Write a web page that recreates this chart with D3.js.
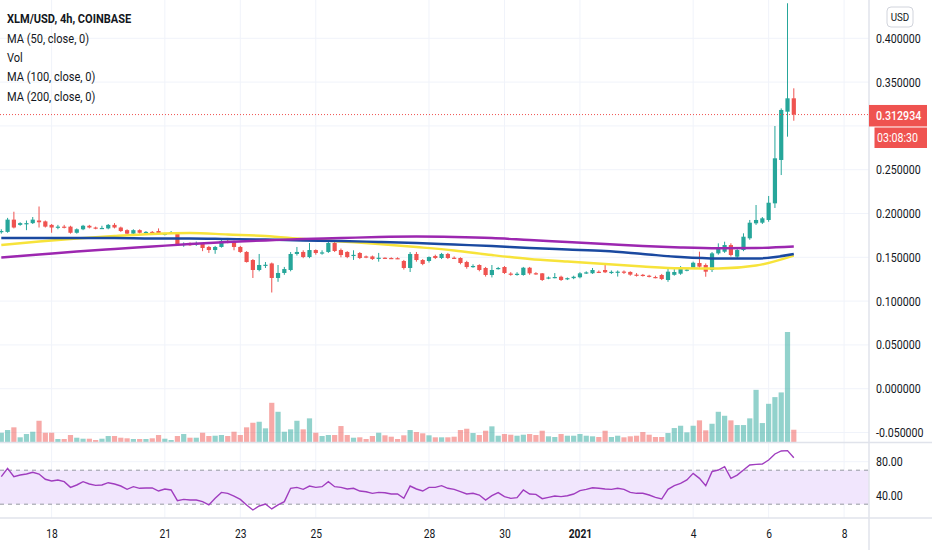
<!DOCTYPE html>
<html>
<head>
<meta charset="utf-8">
<script src="https://cdn.jsdelivr.net/npm/d3@7"></script>
<style>
html, body { margin: 0; padding: 0; background: #fff; }
svg { display: block; font-family: Roboto, "Liberation Sans", sans-serif; }
</style>
</head>
<body>
<div id="content"></div>
<script>
// XLM/USD 4h candles, Dec 16 2020 16:00 UTC .. Jan 6 2021 16:00 UTC
var startTime = Date.UTC(2020, 11, 16, 16);
var barHours = 4;

var open = [.1790,.1790,.1930,.1870,.1880,.1890,.1920,.1910,.1870,.1840,.1850,.1850,.1780,.1820,.1860,.1840,.1830,.1830,.1870,.1840,
  .1810,.1770,.1810,.1780,.1790,.1800,.1760,.1775,.1770,.1645,.1652,.1648,.1652,.1618,.1583,.1618,.1680,.1675,.1618,.1561,
  .1469,.1355,.1405,.1430,.1264,.1321,.1355,.1538,.1561,.1503,.1583,.1549,.1561,.1663,.1583,.1561,.1520,.1549,.1510,.1510,
  .1488,.1495,.1492,.1490,.1458,.1378,.1538,.1469,.1458,.1515,.1492,.1538,.1495,.1492,.1446,.1395,.1412,.1378,.1298,.1372,
  .1389,.1314,.1305,.1298,.1381,.1318,.1317,.1262,.1264,.1278,.1255,.1262,.1272,.1320,.1318,.1335,.1355,.1329,.1330,.1337,
  .1333,.1302,.1300,.1290,.1275,.1298,.1241,.1300,.1313,.1350,.1381,.1435,.1412,.1355,.1545,.1564,.1640,.1507,.1583,.1717,
  .1888,.1895,.1926,.2116,.2611,.3162,.3315];
var high = [.1820,.1950,.2020,.1900,.1920,.1960,.2080,.1920,.1880,.1870,.1870,.1860,.1830,.1870,.1870,.1850,.1860,.1880,.1890,.1850,
  .1820,.1820,.1820,.1800,.1800,.1830,.1780,.1800,.1775,.1670,.1670,.1680,.1660,.1630,.1630,.1710,.1700,.1690,.1630,.1570,
  .1480,.1538,.1446,.1440,.1412,.1390,.1560,.1618,.1580,.1663,.1590,.1580,.1680,.1680,.1600,.1570,.1580,.1560,.1520,.1520,
  .1550,.1500,.1500,.1500,.1470,.1560,.1561,.1480,.1510,.1530,.1550,.1550,.1510,.1500,.1460,.1420,.1420,.1390,.1412,.1390,
  .1400,.1330,.1330,.1390,.1390,.1330,.1320,.1280,.1320,.1290,.1270,.1290,.1330,.1340,.1378,.1350,.1412,.1350,.1350,.1350,
  .1340,.1320,.1310,.1300,.1290,.1310,.1370,.1365,.1400,.1380,.1450,.1564,.1430,.1560,.1659,.1678,.1660,.1600,.1774,.1926,
  .2097,.1960,.2200,.2999,.3200,.4400,.3429];
var low = [.1770,.1780,.1830,.1860,.1810,.1880,.1840,.1840,.1780,.1820,.1830,.1770,.1770,.1810,.1830,.1820,.1830,.1820,.1830,.1790,
  .1760,.1760,.1770,.1770,.1770,.1760,.1750,.1770,.1630,.1620,.1630,.1630,.1570,.1550,.1540,.1610,.1660,.1580,.1550,.1440,
  .1264,.1340,.1378,.1098,.1220,.1300,.1340,.1520,.1490,.1490,.1530,.1530,.1550,.1560,.1500,.1490,.1470,.1480,.1490,.1470,
  .1450,.1480,.1480,.1480,.1360,.1332,.1450,.1410,.1440,.1480,.1480,.1480,.1480,.1420,.1370,.1380,.1340,.1280,.1270,.1360,
  .1310,.1290,.1290,.1290,.1300,.1300,.1230,.1250,.1260,.1230,.1240,.1250,.1260,.1310,.1310,.1320,.1320,.1310,.1280,.1310,
  .1290,.1280,.1280,.1270,.1260,.1240,.1220,.1290,.1300,.1340,.1370,.1380,.1278,.1332,.1530,.1550,.1510,.1490,.1570,.1700,
  .1870,.1880,.1906,.2063,.2439,.2877,.3059];
var close = [.1800,.1930,.1840,.1890,.1890,.1930,.1900,.1850,.1840,.1850,.1840,.1780,.1820,.1860,.1840,.1830,.1835,.1870,.1840,.1800,
  .1770,.1810,.1780,.1790,.1780,.1770,.1770,.1785,.1640,.1652,.1645,.1658,.1606,.1583,.1618,.1686,.1675,.1618,.1561,.1446,
  .1355,.1412,.1415,.1264,.1321,.1366,.1538,.1561,.1503,.1583,.1549,.1556,.1663,.1572,.1526,.1503,.1528,.1492,.1505,.1480,
  .1495,.1490,.1487,.1485,.1378,.1538,.1469,.1424,.1503,.1492,.1538,.1492,.1490,.1435,.1389,.1401,.1355,.1298,.1355,.1378,
  .1321,.1305,.1312,.1381,.1317,.1312,.1241,.1270,.1275,.1241,.1262,.1278,.1317,.1328,.1355,.1328,.1329,.1334,.1336,.1332,
  .1302,.1298,.1296,.1278,.1268,.1252,.1336,.1332,.1389,.1360,.1438,.1393,.1336,.1545,.1602,.1640,.1526,.1583,.1735,.1895,
  .1926,.1945,.2123,.2630,.3182,.3315,.312934];
// volume, millions
var volume = [9.3,12,14.7,4.7,8,10.3,21.3,9.3,9.3,3,3,7,4.3,3.3,3.3,2,3.3,6,6,4.3,
  3.7,3,3,3,3.7,7,3.3,2,6,8,4.3,4.3,9.3,6,6.3,7,6,10.3,7,14.7,
  19.3,20.3,13.7,39.3,30.3,10.3,12.7,21.3,12.7,23.7,9.3,6,7,7,16,7,4.3,4.7,3,6,
  9.3,6.7,5.3,3,6.7,12,10,8.7,6.7,4.7,4.7,4.7,5.3,12,13.3,9,7,11.3,15.7,6.3,
  8,7.3,6.3,7.3,8,7,11.3,5.7,5,8,6.3,6.3,8,6.3,5.7,5,11.3,5,6.3,4.7,
  5.7,6.3,10,7.3,5,5,9,14,16.3,9.7,16.3,21.7,11.7,18.3,30.3,26.3,21.7,17,17,23.7,
  52.3,19,38.3,45,49.7,110.3,12.3];
// RSI (14, close)
var rsi = [62.4,72.2,62.4,64.4,65.5,67.5,65.5,59.3,57.3,58.5,56.5,49.8,52.6,56.5,53.8,52.2,52.6,55.3,53.8,51.4,
  47.5,50.6,48.7,49.1,49.1,45.5,47.9,46.7,34.1,35.7,34.9,34.9,33.0,29.1,36.9,43.9,42.8,39.6,35.7,29.1,
  23.2,27.9,30.2,24.4,29.1,33.0,48.7,49.8,47.5,51.4,49.8,50.6,56.5,50.6,49.8,47.9,48.7,45.5,44.7,42.8,
  43.9,43.5,42.0,42.0,37.0,51.4,47.9,45.5,49.8,49.8,51.8,48.7,47.5,44.7,42.0,42.8,40.8,34.9,40.0,43.6,
  38.9,36.9,37.7,46.7,42.0,41.6,36.5,38.1,39.6,38.9,40.0,42.0,45.9,47.5,49.4,48.7,47.9,47.5,48.7,47.5,
  43.9,42.8,42.8,40.8,38.1,36.1,47.5,51.8,54.5,58.5,66.3,60.4,51.8,68.3,70.2,74.1,60.4,64.3,70.2,76.1,
  76.9,77.3,82.0,89.1,92.6,93.0,84.7];

// moving averages, read once a day (every 6th bar)
var maStep = 6;
var ma50 = [.1640,.1680,.1715,.1743,.1766,.1777,.1760,.1743,.1709,.1680,.1652,.1617,.1578,.1526,.1481,.1452,.1423,.1395,.1375,.1372,.1406,.1520];
var ma100 = [.1720,.1720,.1720,.1720,.1715,.1715,.1709,.1703,.1692,.1686,.1675,.1663,.1646,.1629,.1606,.1589,.1572,.1538,.1503,.1486,.1486,.1538];
var ma200 = [.1498,.1532,.1566,.1595,.1623,.1652,.1675,.1692,.1709,.1720,.1732,.1737,.1732,.1720,.1697,.1675,.1652,.1629,.1612,.1603,.1606,.1623];

var priceTicks = [-0.05, 0, 0.05, 0.1, 0.15, 0.2, 0.25, 0.3, 0.35, 0.4];
var rsiTicks = [40, 80];
var rsiBand = [30, 70];
var timeTicks = ["2020-12-18","2020-12-21","2020-12-23","2020-12-25","2020-12-28","2020-12-30","2021-01-01","2021-01-04","2021-01-06","2021-01-08"];
var legend = ["XLM/USD, 4h, COINBASE", "MA (50, close, 0)", "Vol", "MA (100, close, 0)", "MA (200, close, 0)"];
var countdown = "03:08:30";

// Set up canvas
var width = 932, height = 550;
var plotRight = 869, mainBottom = 442, rsiBottom = 518;
var up = "#26a69a", down = "#ef5350";
var gridColor = "#f0f3fa", sepColor = "#e0e3eb", textColor = "#131722";

var bars = open.map(function(o, i) {
  return { t: new Date(startTime + i * barHours * 3600e3), o: o, h: high[i], l: low[i], c: close[i], v: volume[i], r: rsi[i] };
});

var svg = d3.select("#content")
  .append("svg")
  .attr("width", width)
  .attr("height", height);

var x = d3.scaleUtc()
  .domain([bars[0].t, bars[bars.length - 1].t])
  .range([1.3, 793.8]);

var y = d3.scaleLinear()
  .domain([-0.05, 0.4])
  .range([432.5, 38.3]);

var yVol = d3.scaleLinear()
  .domain([0, d3.max(volume)])
  .range([mainBottom, mainBottom - 110]);

var yRsi = d3.scaleLinear()
  .domain([0, 100])
  .range([529.7, 444.7]);

var defs = svg.append("defs");
defs.append("clipPath").attr("id", "clipMain")
  .append("rect").attr("x", 0).attr("y", 0).attr("width", plotRight).attr("height", mainBottom);
defs.append("clipPath").attr("id", "clipRsi")
  .append("rect").attr("x", 0).attr("y", mainBottom).attr("width", plotRight).attr("height", rsiBottom - mainBottom);

// squeeze text a bit so it matches the narrow look of the screenshot
function squeeze(sel, k) {
  sel.each(function() {
    var len = this.getComputedTextLength();
    d3.select(this).attr("textLength", len * k).attr("lengthAdjust", "spacingAndGlyphs");
  });
}

// grid
var tickDates = timeTicks.map(function(s) { return new Date(s + "T00:00:00Z"); });
svg.append("g").selectAll("line")
  .data(tickDates).enter().append("line")
  .attr("x1", function(d) { return x(d); }).attr("x2", function(d) { return x(d); })
  .attr("y1", 0).attr("y2", rsiBottom)
  .attr("stroke", gridColor);

svg.append("g").selectAll("line")
  .data(priceTicks).enter().append("line")
  .attr("x1", 0).attr("x2", plotRight)
  .attr("y1", function(d) { return y(d); }).attr("y2", function(d) { return y(d); })
  .attr("stroke", gridColor);

svg.append("g").selectAll("line")
  .data(rsiTicks).enter().append("line")
  .attr("x1", 0).attr("x2", plotRight)
  .attr("y1", function(d) { return yRsi(d); }).attr("y2", function(d) { return yRsi(d); })
  .attr("stroke", gridColor);

// volume
var main = svg.append("g").attr("clip-path", "url(#clipMain)");
main.append("g").selectAll("rect")
  .data(bars).enter().append("rect")
  .attr("x", function(d) { return x(d.t) - 2.6; })
  .attr("width", 5.2)
  .attr("y", function(d) { return yVol(d.v); })
  .attr("height", function(d) { return mainBottom - yVol(d.v); })
  .attr("fill", function(d) { return d.c >= d.o ? up : down; })
  .attr("fill-opacity", 0.5);

// candles
var candle = main.append("g").selectAll("g")
  .data(bars).enter().append("g")
  .attr("fill", function(d) { return d.c >= d.o ? up : down; })
  .attr("stroke", function(d) { return d.c >= d.o ? up : down; });

candle.append("line")
  .attr("x1", function(d) { return x(d.t); }).attr("x2", function(d) { return x(d.t); })
  .attr("y1", function(d) { return y(d.h); }).attr("y2", function(d) { return y(d.l); })
  .attr("stroke-width", 1);

candle.append("rect")
  .attr("stroke", "none")
  .attr("x", function(d) { return x(d.t) - 2.1; })
  .attr("width", 4.2)
  .attr("y", function(d) { return y(Math.max(d.o, d.c)); })
  .attr("height", function(d) { return Math.max(1.2, Math.abs(y(d.o) - y(d.c))); });

// moving averages
var maLine = d3.line()
  .x(function(d, i) { return x(bars[i * maStep].t); })
  .y(function(d) { return y(d); })
  .curve(d3.curveMonotoneX);

[[ma50, "#f7e33a"], [ma100, "#1a49a0"], [ma200, "#9c27b0"]].forEach(function(m) {
  main.append("path")
    .attr("d", maLine(m[0]))
    .attr("fill", "none")
    .attr("stroke", m[1])
    .attr("stroke-width", 2.4);
});

// last price line
var lastClose = close[close.length - 1];
var py = y(lastClose);
svg.append("line")
  .attr("x1", 0).attr("x2", plotRight)
  .attr("y1", py).attr("y2", py)
  .attr("stroke", down)
  .attr("stroke-dasharray", "1,2");

// RSI pane
svg.append("rect")
  .attr("x", 0).attr("width", plotRight)
  .attr("y", yRsi(rsiBand[1]))
  .attr("height", yRsi(rsiBand[0]) - yRsi(rsiBand[1]))
  .attr("fill", "#f1e6fd");

svg.append("g").selectAll("line")
  .data(rsiBand).enter().append("line")
  .attr("x1", 0).attr("x2", plotRight)
  .attr("y1", function(d) { return yRsi(d); }).attr("y2", function(d) { return yRsi(d); })
  .attr("stroke", "#9598a1")
  .attr("stroke-dasharray", "4,4");

svg.append("path")
  .attr("clip-path", "url(#clipRsi)")
  .attr("d", d3.line().x(function(d) { return x(d.t); }).y(function(d) { return yRsi(d.r); })(bars))
  .attr("fill", "none")
  .attr("stroke", "#a03dbf")
  .attr("stroke-width", 1.4);

// separators
svg.append("line").attr("x1", 0).attr("x2", width).attr("y1", mainBottom + 0.5).attr("y2", mainBottom + 0.5).attr("stroke", sepColor).attr("stroke-width", 1.5);
svg.append("line").attr("x1", 0).attr("x2", width).attr("y1", rsiBottom).attr("y2", rsiBottom).attr("stroke", sepColor).attr("stroke-width", 1.5);
svg.append("line").attr("x1", plotRight).attr("x2", plotRight).attr("y1", 0).attr("y2", height).attr("stroke", sepColor).attr("stroke-width", 1.5);

// price axis
var price_axis = d3.axisRight(y)
  .tickValues(priceTicks)
  .tickFormat(function(d) { return d.toFixed(6); })
  .tickSize(0)
  .tickPadding(7);
var pa = svg.append("g")
  .attr("transform", "translate(" + plotRight + ",0)")
  .call(price_axis);
pa.select(".domain").remove();
// the label under the last-price box is hidden, as on the chart
pa.selectAll(".tick").filter(function(d) { return Math.abs(y(d) - py) < 24; }).select("text").remove();
pa.selectAll("text").attr("fill", textColor).style("font-size", "12.5px").style("font-family", "Roboto");
squeeze(pa.selectAll("text"), 0.85);

// rsi axis
var rsi_axis = d3.axisRight(yRsi)
  .tickValues(rsiTicks)
  .tickFormat(function(d) { return d.toFixed(2); })
  .tickSize(0)
  .tickPadding(7);
var ra = svg.append("g")
  .attr("transform", "translate(" + plotRight + ",0)")
  .call(rsi_axis);
ra.select(".domain").remove();
ra.selectAll("text").attr("fill", textColor).style("font-size", "12.5px").style("font-family", "Roboto");
squeeze(ra.selectAll("text"), 0.85);

// time axis
var time_axis = d3.axisBottom(x)
  .tickValues(tickDates)
  .tickFormat(function(d) { return d.getUTCMonth() === 0 && d.getUTCDate() === 1 ? d3.utcFormat("%Y")(d) : d3.utcFormat("%-d")(d); })
  .tickSize(0)
  .tickPadding(11);
var ta = svg.append("g")
  .attr("transform", "translate(0," + rsiBottom + ")")
  .call(time_axis);
ta.select(".domain").remove();
ta.selectAll("text").attr("fill", textColor).style("font-size", "12.5px").style("font-family", "Roboto")
  .style("font-weight", function(d) { return d.getUTCDate() === 1 ? "bold" : "normal"; });
squeeze(ta.selectAll("text"), 0.82);

// last price labels
svg.append("rect").attr("x", plotRight).attr("y", py - 9.6).attr("width", 58).attr("height", 21.5).attr("fill", down);
var lp = svg.append("text").attr("x", 876).attr("y", py + 1).attr("dy", "0.35em")
  .attr("fill", "#fff").style("font-size", "12.5px").style("font-weight", "500")
  .text(lastClose.toFixed(6));
squeeze(lp, 0.85);
svg.append("rect").attr("x", 874.5).attr("y", 127.5).attr("width", 52.5).attr("height", 20.5).attr("fill", down);
var cd = svg.append("text").attr("x", 877).attr("y", 138).attr("dy", "0.35em")
  .attr("fill", "#fff").style("font-size", "12.5px")
  .text(countdown);
squeeze(cd, 0.85);

// currency button
svg.append("rect").attr("x", 887).attr("y", 7).attr("width", 26).attr("height", 20).attr("rx", 4)
  .attr("fill", "#fff").attr("stroke", "#d1d4dc");
var usd = svg.append("text").attr("x", 900).attr("y", 17).attr("dy", "0.35em").attr("text-anchor", "middle")
  .attr("fill", textColor).style("font-size", "11.5px").text("USD");
squeeze(usd, 0.85);

// legend
var lg = svg.append("g").selectAll("text")
  .data(legend).enter().append("text")
  .attr("x", 7)
  .attr("y", function(d, i) { return [18.3, 38.3, 57.3, 76.7, 96][i]; })
  .attr("dy", "0.35em")
  .attr("fill", textColor)
  .style("font-size", "13px")
  .style("font-weight", function(d, i) { return i === 0 ? "bold" : "normal"; })
  .text(function(d) { return d; });
squeeze(lg, 0.85);
</script>
</body>
</html>
